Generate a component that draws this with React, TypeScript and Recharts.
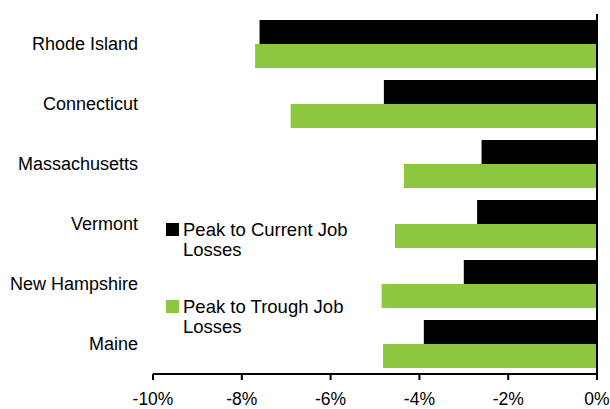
import { BarChart, Bar, XAxis, YAxis, ReferenceLine, Legend } from 'recharts';

const states = ['Rhode Island', 'Connecticut', 'Massachusetts', 'Vermont', 'New Hampshire', 'Maine'];
const peakToCurrent = [-7.6, -4.8, -2.6, -2.7, -3.0, -3.9];
const peakToTrough = [-7.7, -6.9, -4.35, -4.55, -4.85, -4.82];
const xTicks = [-10, -8, -6, -4, -2, 0];

const GREEN = '#8DC63F';
const FONT = '"Liberation Sans", Arial, sans-serif';

const chartData = states.map((state, i) => ({
  state,
  current: peakToCurrent[i],
  trough: peakToTrough[i],
}));

// legend drawn as two stacked items with wrapped labels
function LegendBox(props: any) {
  const items = props.payload || [];
  return (
    <div style={{ fontFamily: FONT, fontSize: 18.5, lineHeight: '20px', color: '#000', textAlign: 'left' }}>
      {items.map((item: any, i: number) => (
        <div key={item.value} style={{ display: 'flex', alignItems: 'flex-start', marginTop: i === 0 ? 0 : 37 }}>
          <span
            style={{
              display: 'inline-block',
              width: 13,
              height: 13,
              background: item.color,
              marginTop: 3,
              marginRight: 4,
              flex: 'none',
            }}
          />
          <span style={{ width: 175 }}>{item.value}</span>
        </div>
      ))}
    </div>
  );
}

export default function App() {
  return (
    <div style={{ position: 'absolute', left: 0, top: 0, width: 610, height: 409, background: '#fff' }}>
      <BarChart
        width={610}
        height={409}
        data={chartData}
        layout="vertical"
        margin={{ top: 14, right: 13, bottom: 0, left: 0 }}
        barCategoryGap={6}
        barGap={0}
      >
        <XAxis
          type="number"
          domain={[-10, 0]}
          ticks={xTicks}
          tickFormatter={(v) => `${v}%`}
          axisLine={{ stroke: '#000', strokeWidth: 2 }}
          tickLine={{ stroke: '#000', strokeWidth: 2 }}
          tickSize={6}
          tickMargin={13}
          height={35}
          tick={{ fill: '#000', fontSize: 17.5, fontFamily: FONT }}
          interval={0}
        />
        <YAxis
          type="category"
          dataKey="state"
          width={153}
          axisLine={false}
          tickLine={false}
          tickSize={0}
          tickMargin={15}
          tick={{ fill: '#000', fontSize: 18, fontFamily: FONT }}
          interval={0}
        />
        <Legend
          content={LegendBox}
          layout="vertical"
          align="center"
          verticalAlign="middle"
          wrapperStyle={{ position: 'absolute', left: 166, top: 220, width: 220 }}
        />
        <Bar dataKey="current" name="Peak to Current Job Losses" fill="#000" isAnimationActive={false} />
        <Bar dataKey="trough" name="Peak to Trough Job Losses" fill={GREEN} isAnimationActive={false} />
        <ReferenceLine x={0} stroke="#000" strokeWidth={2} />
      </BarChart>
    </div>
  );
}
